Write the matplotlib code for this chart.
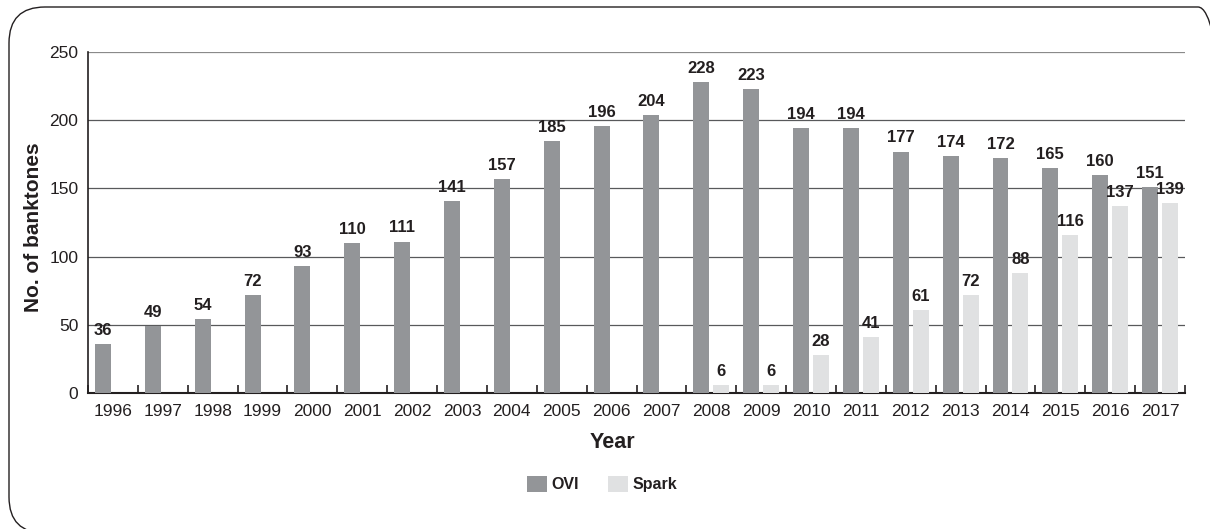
import matplotlib
matplotlib.use("Agg")
import matplotlib.pyplot as plt
import numpy as np
from matplotlib.patches import FancyBboxPatch, Patch

years = ["1996", "1997", "1998", "1999", "2000", "2001", "2002", "2003", "2004",
         "2005", "2006", "2007", "2008", "2009", "2010", "2011", "2012", "2013",
         "2014", "2015", "2016", "2017"]
ovi = [36, 49, 54, 72, 93, 110, 111, 141, 157, 185, 196, 204, 228, 223, 194,
       194, 177, 174, 172, 165, 160, 151]
spark = [0, 0, 0, 0, 0, 0, 0, 0, 0, 0, 0, 0, 6, 6, 28, 41, 61, 72, 88, 116,
         137, 139]
yticks = [0, 50, 100, 150, 200, 250]

plt.rcParams["font.family"] = ["Liberation Sans", "DejaVu Sans"]
TEXT = "#231f20"
C_OVI = "#939598"
C_SPARK = "#e0e1e2"

W, H = 1210, 529
fig = plt.figure(figsize=(W / 100, H / 100), dpi=100)
ax = fig.add_axes([88 / W, 1 - 393 / H, (1185 - 88) / W, (393 - 52) / H])

n = len(years)
x = np.arange(n)
w = 0.32
ax.bar(x - 0.5 + 0.14, ovi, width=w, align="edge", color=C_OVI, zorder=3)
ax.bar(x + 0.04, [v if v > 0 else np.nan for v in spark], width=w, align="edge",
       color=C_SPARK, zorder=3)

for i, v in enumerate(ovi):
    ax.text(i - 0.5 + 0.14 + w / 2, v + 4.5, str(v), ha="center", va="bottom",
            fontsize=12, fontweight="bold", color=TEXT, zorder=5)
for i, v in enumerate(spark):
    if v > 0:
        ax.text(i + 0.04 + w / 2, v + 4.5, str(v), ha="center", va="bottom",
                fontsize=12, fontweight="bold", color=TEXT, zorder=5)

ax.set_xlim(-0.5, n - 0.5)
ax.set_ylim(0, 250)
ax.set_yticks(yticks)
ax.set_yticklabels([str(t) for t in yticks], fontsize=12.5, color=TEXT)
ax.tick_params(axis="y", length=0, pad=7)
ax.yaxis.grid(True, color="#58595b", linewidth=0.9, zorder=0)
ax.get_ygridlines()[-1].set_color("#8a8a8a")
ax.set_axisbelow(True)

# boundary ticks pointing inward, labels centred under each year
ax.set_xticks(np.arange(n + 1) - 0.5)
ax.set_xticklabels([])
ax.tick_params(axis="x", which="major", direction="in", length=6, width=1.2,
               color=TEXT)
ax.set_xticks(x, minor=True)
ax.set_xticklabels(years, minor=True, fontsize=12.5, color=TEXT)
ax.tick_params(axis="x", which="minor", length=0, pad=8)

for s in ["top", "right"]:
    ax.spines[s].set_visible(False)
ax.spines["left"].set_color(TEXT)
ax.spines["left"].set_linewidth(1.2)
ax.spines["bottom"].set_color(TEXT)
ax.spines["bottom"].set_linewidth(1.5)

fig.text(612 / W, 1 - 442 / H, "Year", ha="center", va="center",
         fontsize=15.5, fontweight="bold", color=TEXT)
fig.text(34 / W, 1 - 227 / H, "No. of banktones", ha="center", va="center",
         rotation=90, fontsize=15, fontweight="bold", color=TEXT)

handles = [Patch(facecolor=C_OVI, label="OVI"), Patch(facecolor=C_SPARK, label="Spark")]
leg = fig.legend(handles=handles, loc="center", bbox_to_anchor=(602 / W, 1 - 484 / H),
                 ncol=2, frameon=False, handlelength=1.25, handleheight=1.25,
                 columnspacing=1.8, handletextpad=0.3, borderpad=0,
                 prop={"weight": "bold", "size": 11.5})
for t in leg.get_texts():
    t.set_color(TEXT)

# rounded frame around the whole figure (inch coordinates)
border = FancyBboxPatch((0.09, -0.04), 12.25, 5.26,
                        boxstyle="round,pad=0,rounding_size=0.36",
                        transform=fig.dpi_scale_trans, fill=False,
                        edgecolor=TEXT, linewidth=1.0, clip_on=False)
fig.patches.append(border)

fig.savefig("out.png", dpi=100)
